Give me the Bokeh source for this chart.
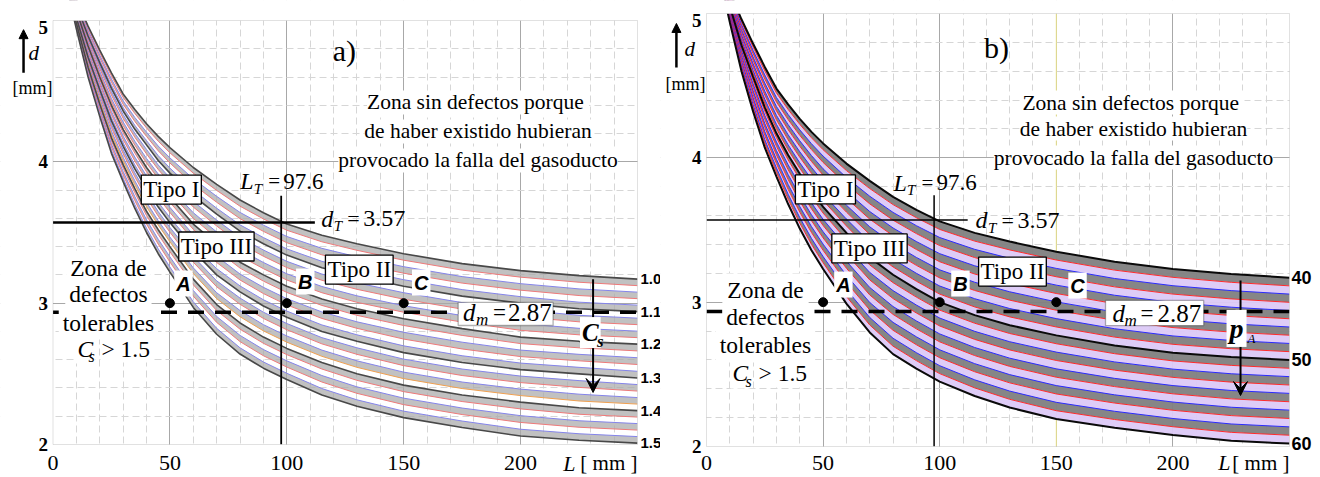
import numpy as np
from bokeh.plotting import figure
from bokeh.layouts import row
from bokeh.models import Range1d, FixedTicker, Label, Arrow, VeeHead, NormalHead, BoxAnnotation, Grid
from bokeh.embed import file_html
from bokeh.resources import INLINE

# ---------------- data ----------------
L_grid = [5, 10, 15, 20, 25, 30, 35, 40, 45, 50, 60, 70, 80, 90, 100, 115, 130, 150, 175, 200, 225, 250]

# panel a) safety-factor curves Cs
cs_labels = ["1.0", "1.1", "1.2", "1.3", "1.4", "1.5"]
d_cs10 = [5.35, 5.15, 4.96, 4.79, 4.63, 4.48, 4.37, 4.27, 4.18, 4.10, 3.96, 3.84, 3.73, 3.64, 3.56, 3.48, 3.42, 3.35, 3.28, 3.23, 3.195, 3.17]
d_cs11 = [5.34, 5.11, 4.89, 4.70, 4.52, 4.36, 4.23, 4.12, 4.01, 3.92, 3.76, 3.63, 3.51, 3.42, 3.34, 3.25, 3.19, 3.12, 3.05, 3.00, 2.96, 2.94]
d_cs12 = [5.33, 5.07, 4.82, 4.60, 4.40, 4.23, 4.09, 3.96, 3.85, 3.75, 3.56, 3.42, 3.29, 3.20, 3.12, 3.03, 2.96, 2.89, 2.82, 2.76, 2.73, 2.71]
d_cs13 = [5.32, 5.02, 4.74, 4.51, 4.29, 4.11, 3.95, 3.81, 3.68, 3.57, 3.37, 3.20, 3.08, 2.98, 2.90, 2.80, 2.73, 2.65, 2.58, 2.53, 2.50, 2.47]
d_cs14 = [5.31, 4.98, 4.67, 4.41, 4.17, 3.98, 3.81, 3.65, 3.52, 3.40, 3.17, 2.99, 2.86, 2.76, 2.68, 2.58, 2.50, 2.42, 2.35, 2.30, 2.26, 2.24]
d_cs15 = [5.30, 4.94, 4.60, 4.32, 4.06, 3.86, 3.67, 3.50, 3.35, 3.22, 2.97, 2.78, 2.64, 2.54, 2.46, 2.35, 2.27, 2.19, 2.12, 2.06, 2.03, 2.01]

# panel b) pressure curves pA
pa_labels = ["40", "50", "60"]
d_pa40 = [5.35, 5.15, 4.96, 4.79, 4.63, 4.48, 4.37, 4.27, 4.18, 4.10, 3.96, 3.84, 3.73, 3.64, 3.56, 3.48, 3.42, 3.35, 3.28, 3.23, 3.195, 3.17]
d_pa50 = [5.33, 5.05, 4.78, 4.56, 4.35, 4.17, 4.02, 3.89, 3.77, 3.66, 3.48, 3.31, 3.19, 3.09, 3.00, 2.91, 2.84, 2.77, 2.70, 2.65, 2.62, 2.60]
d_pa60 = [5.30, 4.94, 4.60, 4.32, 4.07, 3.87, 3.68, 3.51, 3.36, 3.23, 2.99, 2.79, 2.64, 2.54, 2.45, 2.35, 2.27, 2.19, 2.13, 2.08, 2.04, 2.02]

pt_names = ["A", "B", "C"]
pt_L = [50, 100, 150]
pt_d = [3.0, 3.0, 3.0]

L_T = 97.6
d_T = 3.57
d_m_text = "2.87"
d_m_drawn = 2.935

x_ticks = [0, 50, 100, 150, 200]
x_minor = [10, 20, 30, 40, 60, 70, 80, 90, 110, 120, 130, 140, 160, 170, 180, 190, 210, 220, 230, 240]
y_ticks = [2, 3, 4, 5]
y_minor = [2.2, 2.4, 2.6, 2.8, 3.2, 3.4, 3.6, 3.8, 4.2, 4.4, 4.6, 4.8]
L_min, L_max, d_min, d_max = 0, 250, 2, 5

SERIF = "Liberation Serif"
SANS = "Liberation Sans"


def lab(p, x, y, text, size, style=None, font=SERIF, align="left", baseline="middle",
        bg=None, border=None, pad=0, color="black", xo=0):
    kw = dict(x=x, y=y, text=text, text_font=font, text_font_size=f"{size}px",
              text_align=align, text_baseline=baseline, text_color=color, x_offset=xo)
    if style:
        kw["text_font_style"] = style
    l = Label(**kw)
    if bg:
        l.background_fill_color = bg
    if border:
        l.border_line_color = border
        l.border_line_width = 1.3
    if pad:
        l.padding = pad
    p.add_layout(l)
    return l


def make_fig(x0, W, H, fl, fr, ft, fb):
    # whole figure is the frame; data box [0,250]x[2,5] sits at page pixels fl..fr, ft..fb
    sx = (fr - fl) / (L_max - L_min)
    sy = (fb - ft) / (d_max - d_min)
    xr = Range1d(L_min - (fl - x0) / sx, L_min + (x0 + W - fl) / sx)
    yr = Range1d(d_min - (H - fb) / sy, d_max + ft / sy)
    p = figure(width=W, height=H, x_range=xr, y_range=yr, output_backend="svg",
               toolbar_location=None, title=None, min_border=0,
               x_axis_location=None, y_axis_location=None)
    p.styles = {"overflow": "hidden"}
    p.grid.visible = False
    p.outline_line_color = None
    p.background_fill_color = "white"
    p.border_fill_color = "white"
    xt = FixedTicker(ticks=[50, 100, 150, 200], minor_ticks=x_minor)
    yt = FixedTicker(ticks=[3, 4], minor_ticks=y_minor)
    for dim, t in ((0, xt), (1, yt)):
        p.add_layout(Grid(dimension=dim, ticker=t, grid_line_color="#a8a8a8", grid_line_width=1,
                          minor_grid_line_color="#d6d6d6", minor_grid_line_dash="7 4",
                          minor_grid_line_width=1))
    far = 1000
    for kw in (dict(left=-far, right=L_min, bottom=-far, top=far),
               dict(left=L_max, right=far, bottom=-far, top=far),
               dict(left=-far, right=far, bottom=-far, top=d_min),
               dict(left=-far, right=far, bottom=d_max, top=far)):
        p.add_layout(BoxAnnotation(fill_color="white", fill_alpha=1, line_color=None,
                                   level="guide", **kw))
    p.add_layout(BoxAnnotation(left=L_min, right=L_max, bottom=d_min, top=d_max, fill_alpha=0,
                               line_color="#9a9a9a", line_width=1, level="guide"))
    return p


def top_cover(p):
    r = p.y_range
    x = p.x_range
    p.quad(left=[x.start], right=[x.end], bottom=[d_max], top=[r.end + 1], fill_color="white",
           line_color=None)


def ticks_text(p, xlab_y, xl_L, fives_y):
    for t in x_ticks:
        lab(p, t, xlab_y, str(t), 22, align="center")
    lab(p, xl_L, xlab_y, "L", 22, "italic")
    lab(p, L_max, xlab_y, "[ mm ]", 21, align="right")
    for t in y_ticks:
        yy = fives_y if t == d_max else t
        lab(p, L_min, yy, str(t), 19, "bold", align="right", xo=-5)


def family(p, labeled, nsub, band_cols, band_alpha, line_cols, sub_w, black_col, black_w, special=None):
    subs = []
    for a, b in zip(labeled[:-1], labeled[1:]):
        a = np.array(a, dtype=float)
        b = np.array(b, dtype=float)
        for k in range(nsub):
            subs.append(a + (b - a) * k / nsub)
    subs.append(np.array(labeled[-1], dtype=float))
    for j in range(len(subs) - 1):
        col = band_cols[j % 2]
        if col is None:
            continue
        p.varea(x=L_grid, y1=subs[j], y2=subs[j + 1], fill_color=col, fill_alpha=band_alpha)
    for j, s in enumerate(subs):
        if j % nsub == 0:
            continue
        c = line_cols[j % 2]
        if special and j in special:
            c = special[j]
        p.line(L_grid, s, line_color=c, line_width=sub_w)
    for j in range(0, len(subs), nsub):
        p.line(L_grid, subs[j], line_color=black_col, line_width=black_w)
    top_cover(p)


def sub_label(p, x, y, sx, main, sub, offs, num, main_size, sub_size, num_size):
    # italic symbol + italic subscript + "=" + number, offsets in pixels
    lab(p, x, y, main, main_size, "italic")
    lab(p, x + offs[0] / sx, y - 0.05, sub, sub_size, "italic")
    lab(p, x + offs[1] / sx, y, "=", num_size - 2)
    lab(p, x + offs[2] / sx, y, num, num_size)


def common_text(p, cfg, sx):
    lab(p, cfg["title_x"], cfg["title_y"], cfg["title"], 30, align="center")
    zs = ["Zona sin defectos  porque", "de haber existido hubieran", "provocado la falla del gasoducto"]
    for t, yy in zip(zs, cfg["zs_y"]):
        lab(p, cfg["zs_x"], yy, t, 21.5, align="center", bg="white")
    # reference lines
    p.segment(x0=[L_min], y0=[d_T], x1=[cfg["dT_end"]], y1=[d_T], line_color="black", line_width=cfg["dT_w"])
    p.segment(x0=[L_T], y0=[d_min], x1=[L_T], y1=[cfg["LT_top"]], line_color="black", line_width=cfg["LT_w"])
    p.segment(x0=[L_min], y0=[d_m_drawn], x1=[L_max], y1=[d_m_drawn], line_color="black",
              line_width=3.5, line_dash="16 11")
    sub_label(p, cfg["LT_x"], cfg["LT_y"], sx, "L", "T", (13.5, 28, 43), str(L_T), 24, 15, 23)
    sub_label(p, cfg["dTl_x"], cfg["dTl_y"], sx, "d", "T", (12.5, 26, 42), str(d_T), 24, 15, 24)
    # tipo boxes
    lab(p, cfg["t1"][0], cfg["t1"][1], "Tipo I", 23, align="center", bg="white", border="black", pad=2)
    lab(p, cfg["t3"][0], cfg["t3"][1], "Tipo III", 23, align="center", bg="white", border="black", pad=2)
    lab(p, cfg["t2"][0], cfg["t2"][1], "Tipo II", 23, align="center", bg="white", border="black", pad=2)
    # left zone text
    zl = ["Zona de", "defectos", "tolerables"]
    for t, yy in zip(zl, cfg["zl_y"][:3]):
        lab(p, cfg["zl_x"], yy, t, 23.5, align="center", bg="white", pad=4)
    cy = cfg["zl_y"][3]
    lab(p, cfg["cs_x"], cy, "C", 23.5, "italic", bg="white", pad=2)
    lab(p, cfg["cs_x"] + cfg["cs_off"][0] / sx, cy - 0.055, "s", 16, "italic")
    lab(p, cfg["cs_x"] + cfg["cs_off"][1] / sx, cy, "> 1.5", 23.5, bg="white", pad=1)
    # d_m box
    b = cfg["dm_box"]
    p.add_layout(BoxAnnotation(left=b[0], right=b[1], top=b[2], bottom=b[3], fill_color="white",
                               fill_alpha=1, line_color="black", line_width=1.3))
    sub_label(p, cfg["dm_x"], cfg["dm_y"], sx, "d", "m", cfg["dm_off"], d_m_text, 25, 17, 25)
    # points
    p.scatter(pt_L, pt_d, size=9, color="black")
    for nm, (lx, ly) in zip(pt_names, cfg["pt_lab"]):
        lab(p, lx, ly, nm, 20, "bold italic", font=SANS, align="center", bg="white", pad=2)
    # y label
    a = cfg["yarr"]
    p.add_layout(Arrow(end=NormalHead(size=9, fill_color="black", line_color="black"),
                       x_start=a[0], y_start=a[1], x_end=a[0], y_end=a[2],
                       line_width=2.5, line_color="black"))
    lab(p, cfg["yd"][0], cfg["yd"][1], "d", 21, "italic")
    lab(p, cfg["ymm"][0], cfg["ymm"][1], "[mm]", 18, align="center")


H = 476
# ---------------- panel a ----------------
SXA = (637 - 52.5) / 250
pa = make_fig(0, 660, H, 52.5, 637, 20, 444)
cs_curves = [d_cs10, d_cs11, d_cs12, d_cs13, d_cs14, d_cs15]
family(pa, cs_curves, 5, ["#a9a9a9", None], 0.72, ["#8484ea", "#ee7a7a"], 1.0, "#484848", 1.6,
       special={19: "#f0a050"})
cfg_a = dict(title="a)", title_x=124.6, title_y=4.79, zs_x=181.8, zs_y=[4.42, 4.215, 4.01],
             dT_end=112, dT_w=2.5, LT_top=3.76, LT_w=1.8, LT_x=80.1, LT_y=3.861,
             dTl_x=114.7, dTl_y=3.599, t1=(50.6, 3.804), t3=(69.9, 3.401), t2=(131.0, 3.238),
             zl_x=23.7, zl_y=[3.252, 3.068, 2.863, 2.679], cs_x=9.6, cs_off=(13, 25),
             dm_box=(173.3, 213.9, 3.005, 2.842), dm_x=175.4, dm_y=2.934, dm_off=(13, 30, 45),
             pt_lab=[(55.8, 3.139), (107.9, 3.153), (157.5, 3.146)],
             yarr=(-12.6, 4.63, 4.935), yd=(-10.5, 4.767), ymm=(-8.8, 4.519))
common_text(pa, cfg_a, SXA)
pa.add_layout(Arrow(end=VeeHead(size=14, fill_color="black", line_color="black"),
                    x_start=231, y_start=3.17, x_end=231, y_end=2.368, line_width=2, line_color="black"))
lab(pa, 225.4, 2.792, "C", 25, "bold italic", bg="white", pad=2)
lab(pa, 225.4 + 17 / SXA, 2.729, "s", 17, "bold italic")
for t, c in zip(cs_labels, cs_curves):
    lab(pa, L_max, c[-1], t, 15, "bold", font=SANS, xo=3)
ticks_text(pa, 1.866, 218.2, 4.953)

# ---------------- panel b ----------------
SXB = (1289 - 706) / 250
pb = make_fig(660, 658, H, 706, 1289, 13, 446)
pb.segment(x0=[150], y0=[d_min], x1=[150], y1=[d_max], line_color="#ece48c", line_width=1)
pa_curves = [d_pa40, d_pa50, d_pa60]
family(pb, pa_curves, 10, ["#7f7f7f", "#dcc9f7"], 0.95, ["#2a2aff", "#ff2a2a"], 1.0, "#0a0a0a", 2.0)
cfg_b = dict(title="b)", title_x=124.4, title_y=4.764, zs_x=183.1, zs_y=[4.383, 4.203, 4.002],
             dT_end=112, dT_w=1.5, LT_top=3.74, LT_w=1.5, LT_x=80.2, LT_y=3.829,
             dTl_x=115.4, dTl_y=3.566, t1=(51.0, 3.781), t3=(69.9, 3.372), t2=(131.2, 3.212),
             zl_x=25.3, zl_y=[3.081, 2.894, 2.700, 2.506], cs_x=10.3, cs_off=(15, 27),
             dm_box=(171.1, 213.2, 3.012, 2.838), dm_x=174.1, dm_y=2.921, dm_off=(12, 28, 45),
             pt_lab=[(58.7, 3.122), (108.9, 3.129), (159.1, 3.115)],
             yarr=(-12.9, 4.626, 4.931), yd=(-9.4, 4.757), ymm=(-9.0, 4.515))
common_text(pb, cfg_b, SXB)
pb.add_layout(Arrow(end=VeeHead(size=14, fill_color="black", line_color="black"),
                    x_start=229, y_start=3.15, x_end=229, y_end=2.353, line_width=2, line_color="black"))
lab(pb, 223.0, 2.818, "p", 28, "bold italic", bg="white", pad=3)
lab(pb, 223.0 + 21 / SXB, 2.748, "A", 13, "italic")
for t, c in zip(pa_labels, pa_curves):
    lab(pb, L_max, c[-1], t, 18, "bold", font=SANS, xo=2)
ticks_text(pb, 1.889, 219.5, 4.952)

layout = row(pa, pb)
open("out.html", "w").write(file_html(layout, INLINE))
